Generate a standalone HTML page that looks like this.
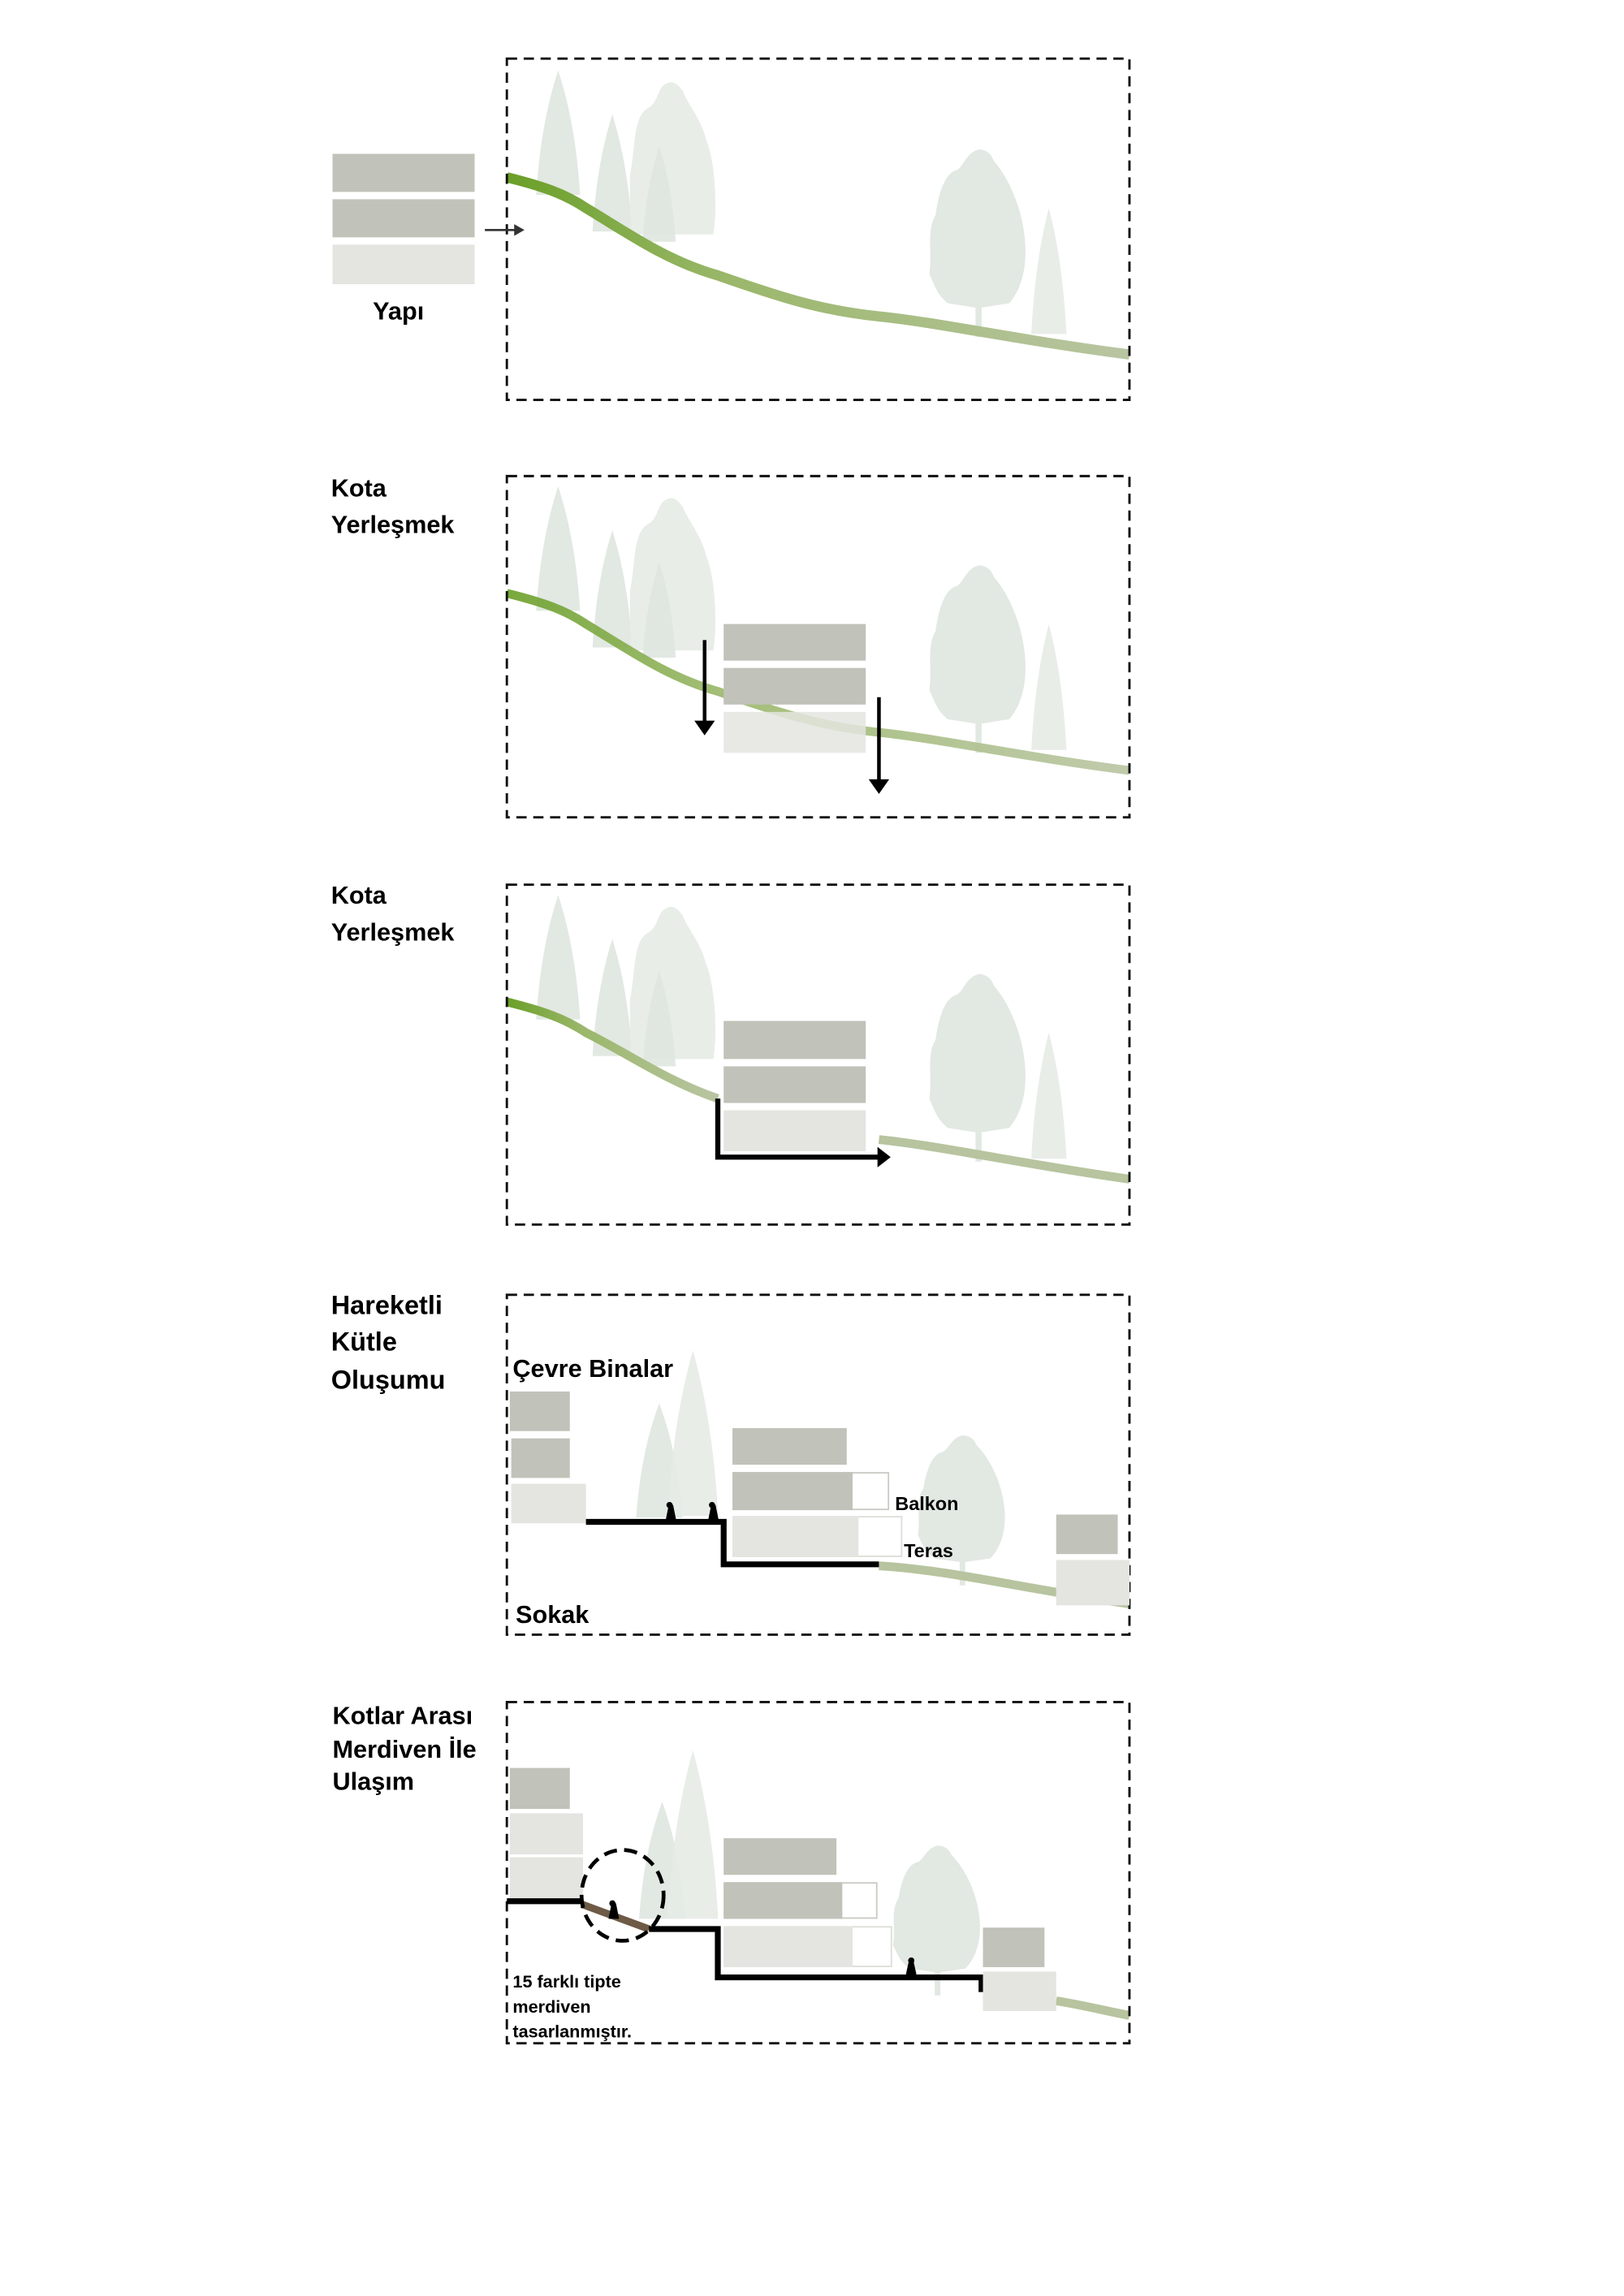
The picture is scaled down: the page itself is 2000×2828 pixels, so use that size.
<!DOCTYPE html>
<html><head><meta charset="utf-8"><style>
html,body{margin:0;padding:0;background:#fff}
svg{display:block}
.lb{font-family:"Liberation Sans Narrow","Liberation Sans",sans-serif;font-weight:bold;fill:#000}
.lw{font-family:"Liberation Sans",sans-serif;font-weight:bold;fill:#000}
.box{fill:none;stroke:#111;stroke-width:1.6;stroke-dasharray:7 4.5}
.tr{fill:#dfe5df;opacity:.9}
.tr2{fill:#e6ebe6;opacity:.9}
.d{fill:#c1c2b9}
.l{fill:#e4e5e0}
</style></head><body>
<svg width="2000" height="2828" viewBox="0 0 1108.6 1567.5" xmlns="http://www.w3.org/2000/svg">
<defs>
<linearGradient id="g" x1="0" x2="1" y1="0" y2="0">
<stop offset="0" stop-color="#6a9f27"/><stop offset="0.35" stop-color="#9ab76a"/><stop offset="1" stop-color="#b9c5a2"/>
</linearGradient>
<g id="cy"><path d="M0 0 C-4 15 -12 45 -15 100 L15 100 C12 45 4 15 0 0Z"/></g>
<g id="bl"><path d="M0 0 C-8 2 -10 12 -14 14 C-22 16 -26 30 -28 45 C-34 55 -30 70 -32 85 C-28 95 -26 100 -20 105 L-2 108 L-2 128 L2 128 L2 108 L20 105 C28 95 32 80 30 60 C28 40 20 20 10 8 C8 2 4 0 0 0Z"/></g>
<g id="trees">
<use href="#cy" class="tr" transform="translate(381,48) scale(1,0.85)"/>
<use href="#cy" class="tr" transform="translate(418,78) scale(0.9,0.8)"/>
<path class="tr2" d="M455 57 C448 60 450 70 442 74 C432 80 434 100 430 120 L430 160 L487 160 C490 140 488 110 482 95 C478 80 470 72 466 62 C462 56 458 55 455 57Z"/>
<use href="#cy" class="tr" transform="translate(450,100) scale(0.75,0.65)"/>
<use href="#bl" class="tr" transform="translate(668,102) scale(1.05,1)"/>
<use href="#cy" class="tr2" transform="translate(716,142) scale(0.8,0.86)"/>
</g>
</defs>

<!-- Panel 1 -->
<use href="#trees"/>
<path d="M346 121 C370 127 385 132 400 142 C430 160 455 178 490 188 C530 202 560 212 600 216 C640 220 700 233 771 242" fill="none" stroke="url(#g)" stroke-width="7"/>
<rect class="box" x="346" y="40" width="425" height="233"/>
<rect class="d" x="227" y="105" width="97" height="26"/>
<rect class="d" x="227" y="136" width="97" height="26"/>
<rect class="l" x="227" y="167" width="97" height="27"/>
<line x1="331" y1="157" x2="352" y2="157" stroke="#333" stroke-width="1.5"/>
<path d="M351 153 L358 157 L351 161Z" fill="#333"/>
<text class="lb" x="272" y="218" font-size="17" text-anchor="middle">Yapı</text>

<!-- Panel 2 -->
<g transform="translate(0,284)"><use href="#trees"/>
<path d="M346 121 C370 127 385 132 400 142 C430 160 455 178 490 188 C530 202 560 212 600 216 C640 220 700 233 771 242" fill="none" stroke="url(#g)" stroke-width="6" opacity="0.9"/>
<rect class="box" x="346" y="41" width="425" height="233"/></g>
<rect class="d" x="494" y="426" width="97" height="25"/>
<rect class="d" x="494" y="456" width="97" height="25"/>
<rect class="l" x="494" y="486" width="97" height="28" opacity="0.85"/>
<line x1="481" y1="437" x2="481" y2="493" stroke="#000" stroke-width="2.5"/>
<path d="M474 492 L481 502 L488 492Z"/>
<line x1="600" y1="476" x2="600" y2="533" stroke="#000" stroke-width="2.5"/>
<path d="M593 532 L600 542 L607 532Z"/>
<text class="lw" x="226" y="339" font-size="17">Kota</text>
<text class="lw" x="226" y="364" font-size="17">Yerleşmek</text>

<!-- Panel 3 -->
<g transform="translate(0,563)"><use href="#trees"/></g>
<path d="M346 684 C370 690 385 695 400 705 C430 720 455 738 490 750" fill="none" stroke="url(#g)" stroke-width="6"/>
<path d="M600 778 C640 782 700 795 771 805" fill="none" stroke="#b7c49f" stroke-width="6"/>
<rect class="box" x="346" y="604" width="425" height="232"/>
<rect class="d" x="494" y="697" width="97" height="26"/>
<rect class="d" x="494" y="728" width="97" height="25"/>
<rect class="l" x="494" y="758" width="97" height="28"/>
<path d="M490 750 L490 790 L600 790" fill="none" stroke="#000" stroke-width="3.5"/>
<path d="M599 783 L608 790 L599 797Z"/>
<text class="lw" x="226" y="617" font-size="17">Kota</text>
<text class="lw" x="226" y="642" font-size="17">Yerleşmek</text>

<!-- Panel 4 -->
<use href="#cy" class="tr" transform="translate(450,958) scale(1.05,0.78)"/>
<use href="#cy" class="tr2" transform="translate(473,922) scale(1.15,1.13)"/>
<use href="#bl" class="tr" transform="translate(657,980) scale(0.95,0.8)"/>
<path d="M600 1069 C650 1072 700 1085 771 1095" fill="none" stroke="#b7c49f" stroke-width="6"/>
<rect class="box" x="346" y="884" width="425" height="232"/>
<rect class="d" x="348" y="950" width="41" height="27"/>
<rect class="d" x="349" y="982" width="40" height="27"/>
<rect class="l" x="349" y="1013" width="51" height="27"/>
<path d="M400 1039 L494 1039 L494 1068 L600 1068" fill="none" stroke="#000" stroke-width="4"/>
<rect class="d" x="500" y="975" width="78" height="25"/>
<rect x="500.5" y="1005.5" width="106" height="25" fill="#fff" stroke="#c9cac3"/>
<rect class="d" x="500" y="1005" width="82" height="26"/>
<rect x="500.5" y="1035.5" width="115" height="27" fill="#fff" stroke="#dcddd8"/>
<rect class="l" x="500" y="1035" width="86" height="28"/>
<rect class="d" x="721" y="1034" width="42" height="27"/>
<rect class="l" x="721" y="1065" width="50" height="31"/>
<path d="M455 1038 l2 -10 h2 l2 10 M457 1026 a1.5 1.5 0 1 0 0.1 0Z M484 1038 l2 -10 h2 l2 10 M486 1026 a1.5 1.5 0 1 0 0.1 0Z" stroke="#000" stroke-width="1.2" fill="#000"/>
<text class="lb" x="350" y="940" font-size="17">Çevre Binalar</text>
<text class="lb" x="611" y="1031" font-size="13">Balkon</text>
<text class="lb" x="617" y="1063" font-size="13">Teras</text>
<text class="lb" x="352" y="1108" font-size="17">Sokak</text>
<text class="lb" x="226" y="897" font-size="18">Hareketli</text>
<text class="lb" x="226" y="922" font-size="18">Kütle</text>
<text class="lb" x="226" y="948" font-size="18">Oluşumu</text>

<!-- Panel 5 -->
<use href="#cy" class="tr" transform="translate(452,1230) scale(1.05,0.8)"/>
<use href="#cy" class="tr2" transform="translate(473,1195) scale(1.15,1.15)"/>
<use href="#bl" class="tr" transform="translate(640,1260) scale(0.95,0.8)"/>
<path d="M721 1366 C740 1369 755 1373 771 1376" fill="none" stroke="#b7c49f" stroke-width="6"/>
<rect class="box" x="346" y="1162" width="425" height="233"/>
<rect class="d" x="348" y="1207" width="41" height="28"/>
<rect class="l" x="348" y="1238" width="50" height="28"/>
<rect class="l" x="348" y="1268" width="50" height="29"/>
<path d="M346 1298 L397 1298" stroke="#000" stroke-width="4"/>
<path d="M397 1300 L443 1317" stroke="#6e5a45" stroke-width="5"/>
<path d="M443 1317 L490 1317 L490 1350 L670 1350 L670 1360" fill="none" stroke="#000" stroke-width="4"/>
<ellipse cx="425" cy="1294" rx="28" ry="31" fill="none" stroke="#000" stroke-width="2.6" stroke-dasharray="9 5"/>
<rect class="d" x="494" y="1255" width="77" height="25"/>
<rect x="494.5" y="1285.5" width="104" height="24" fill="#fff" stroke="#c9cac3"/>
<rect class="d" x="494" y="1285" width="81" height="25"/>
<rect x="494.5" y="1315.5" width="114" height="27" fill="#fff" stroke="#dcddd8"/>
<rect class="l" x="494" y="1315" width="88" height="28"/>
<rect class="d" x="671" y="1316" width="42" height="27"/>
<rect class="l" x="671" y="1346" width="50" height="27"/>
<path d="M416 1310 l2 -10 h2 l2 10 M418 1298 a1.5 1.5 0 1 0 0.1 0Z M619 1348 l2 -9 h2 l2 9 M622 1337 a1.5 1.5 0 1 0 0.1 0Z" stroke="#000" stroke-width="1.2" fill="#000"/>
<text class="lb" x="227" y="1177" font-size="17">Kotlar Arası</text>
<text class="lb" x="227" y="1200" font-size="17">Merdiven İle</text>
<text class="lb" x="227" y="1222" font-size="17">Ulaşım</text>
<text class="lb" x="350" y="1357" font-size="12">15 farklı tipte</text>
<text class="lb" x="350" y="1374" font-size="12">merdiven</text>
<text class="lb" x="350" y="1391" font-size="12">tasarlanmıştır.</text>
</svg>
</body></html>
